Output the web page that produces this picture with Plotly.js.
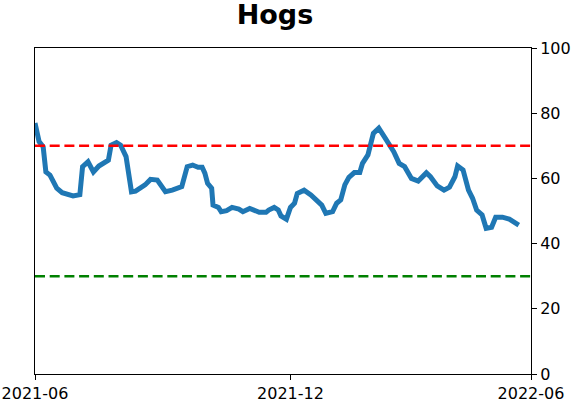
<!DOCTYPE html>
<html>
<head>
<meta charset="utf-8">
<script src="https://cdn.plot.ly/plotly-3.0.1.min.js"></script>
<style>
html,body{margin:0;padding:0;background:#fff;}
#chart{width:571px;height:402px;}
</style>
</head>
<body>
<div id="chart"></div>
<script>
const dates = [
 '2021-06-01','2021-06-04','2021-06-07','2021-06-09','2021-06-12','2021-06-17','2021-06-21','2021-06-29',
 '2021-07-04','2021-07-06','2021-07-10','2021-07-14','2021-07-18','2021-07-25','2021-07-27','2021-07-31',
 '2021-08-03','2021-08-07','2021-08-11','2021-08-14','2021-08-21','2021-08-25','2021-08-30',
 '2021-09-05','2021-09-10','2021-09-17','2021-09-21','2021-09-25','2021-09-29',
 '2021-10-02','2021-10-04','2021-10-06','2021-10-09','2021-10-10','2021-10-14','2021-10-16','2021-10-20','2021-10-24','2021-10-29',
 '2021-11-01','2021-11-06','2021-11-09','2021-11-13','2021-11-18','2021-11-20','2021-11-24','2021-11-27','2021-11-29',
 '2021-12-03','2021-12-06','2021-12-09','2021-12-11','2021-12-16','2021-12-21','2021-12-25','2021-12-29',
 '2022-01-01','2022-01-06','2022-01-09','2022-01-12','2022-01-15','2022-01-18','2022-01-22','2022-01-26','2022-01-28',
 '2022-02-01','2022-02-05','2022-02-09','2022-02-13','2022-02-17','2022-02-20','2022-02-24','2022-02-28',
 '2022-03-05','2022-03-10','2022-03-16','2022-03-19','2022-03-24','2022-03-29',
 '2022-04-02','2022-04-06','2022-04-08','2022-04-12','2022-04-16','2022-04-19','2022-04-22','2022-04-26','2022-04-29',
 '2022-05-03','2022-05-06','2022-05-11','2022-05-16','2022-05-20','2022-05-23'
];
const values = [
 77,71.3,69.7,62,61,57,55.6,54.6,
 55,63.6,65.1,62,63.8,65.6,70.2,71,
 70.2,66.7,55.9,56.1,58,59.7,59.5,
 55.9,56.4,57.5,63.6,64.1,63.4,
 63.4,61.6,58.5,57,51.8,51.1,49.8,50.1,51.1,50.6,
 49.8,50.8,50.1,49.6,49.6,50.3,51.1,50.3,48.5,
 47.5,51.1,52.4,55.4,56.4,54.9,53.4,51.8,
 49.3,49.8,52.4,53.4,58,60.3,61.8,61.8,64.6,
 67.2,73.8,75.4,72.8,70.2,68.2,64.6,63.6,
 60,59.2,61.7,60.5,57.7,56.4,
 57.3,60.5,63.8,62.6,56.4,53.9,50.3,48.8,44.7,
 45,48.1,48.1,47.5,46.4,45.7
];
const upperLevel = 70;
const lowerLevel = 30;
const xRange = ['2021-06-01','2022-06-01'];
const xTickDates = ['2021-06-01','2021-12-06','2022-06-01'];
const xTickLabels = ['2021-06','2021-12','2022-06'];
const yTicks = [0,20,40,60,80,100];
const titleText = 'Hogs';

const font = {family:'DejaVu Sans, sans-serif', size:16, color:'#000'};

const trace = {
  x: dates, y: values, type:'scatter', mode:'lines',
  line:{color:'#1f77b4', width:5, shape:'linear'},
  hoverinfo:'skip'
};

const layout = {
  width:571, height:402,
  margin:{l:35, r:40, t:48, b:28},
  paper_bgcolor:'#fff', plot_bgcolor:'#fff',
  showlegend:false,
  font: font,
  title:{text:'<b>'+titleText+'</b>', font:{family:'DejaVu Sans, sans-serif', size:27, color:'#000'},
         x:275/571, xref:'container', xanchor:'center', y:1-24/402, yref:'container', yanchor:'bottom'},
  xaxis:{
    type:'date', range:xRange, tickmode:'array', tickvals:xTickDates, ticktext:xTickLabels,
    showgrid:false, zeroline:false, showline:true, linecolor:'#000', linewidth:1, mirror:true,
    ticks:'outside', ticklen:5, tickwidth:1, tickcolor:'#000', tickfont:font, ticklabelstandoff:0
  },
  yaxis:{
    range:[0,100], side:'right', tickmode:'array', tickvals:yTicks,
    showgrid:false, zeroline:false, showline:true, linecolor:'#000', linewidth:1, mirror:true,
    ticks:'outside', ticklen:5, tickwidth:1, tickcolor:'#000', tickfont:font
  },
  shapes:[
    {type:'line', xref:'paper', x0:0, x1:1, yref:'y', y0:upperLevel, y1:upperLevel,
     line:{color:'#ff0000', width:2.5, dash:'10px,4.7px'}, layer:'above'},
    {type:'line', xref:'paper', x0:0, x1:1, yref:'y', y0:lowerLevel, y1:lowerLevel,
     line:{color:'#008000', width:2.5, dash:'10px,4.7px'}, layer:'above'}
  ]
};

Plotly.newPlot('chart', [trace], layout, {staticPlot:true, displayModeBar:false});
</script>
</body>
</html>
